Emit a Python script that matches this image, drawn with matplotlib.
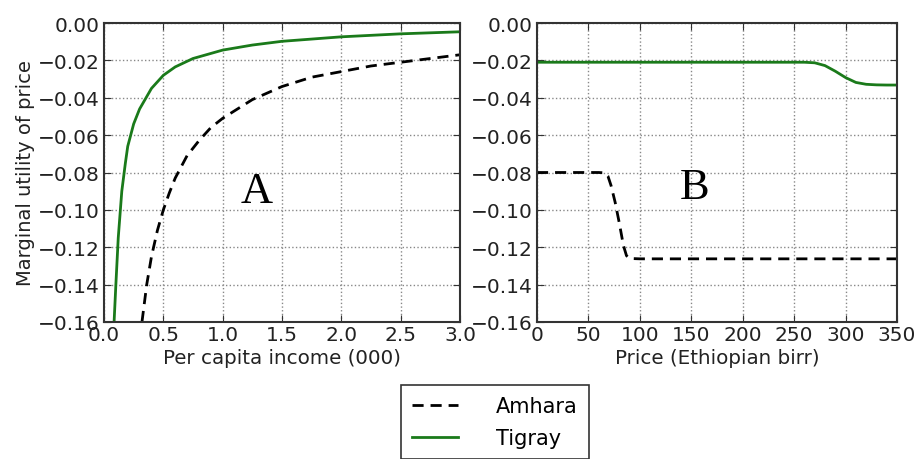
import numpy as np
import matplotlib
matplotlib.use('Agg')
import matplotlib.pyplot as plt

# Panel A: marginal utility vs per capita income (000)
income_amhara = [0.32, 0.36, 0.40, 0.45, 0.50, 0.55, 0.60, 0.70, 0.80, 0.90, 1.00,
                 1.25, 1.50, 1.75, 2.00, 2.25, 2.50, 2.75, 3.00]
mu_amhara_a = [-0.160, -0.140, -0.125, -0.111, -0.100, -0.091, -0.083, -0.071,
               -0.063, -0.056, -0.051, -0.041, -0.034, -0.029, -0.026, -0.023,
               -0.021, -0.019, -0.017]
income_tigray = [0.085, 0.10, 0.12, 0.15, 0.18, 0.20, 0.25, 0.30, 0.40, 0.50, 0.60,
                 0.75, 1.00, 1.25, 1.50, 2.00, 2.50, 3.00]
mu_tigray_a = [-0.160, -0.140, -0.115, -0.090, -0.075, -0.066, -0.054, -0.046,
               -0.035, -0.028, -0.0235, -0.019, -0.0145, -0.0118, -0.0098,
               -0.0074, -0.0058, -0.0047]

# Panel B: marginal utility vs price (Ethiopian birr)
price_amhara = [0, 30, 60, 66, 69, 72, 76, 80, 84, 87, 90, 100, 150, 200, 250, 300, 350]
mu_amhara_b = [-0.080, -0.080, -0.080, -0.0802, -0.082, -0.087, -0.096, -0.107,
               -0.119, -0.1245, -0.126, -0.1262, -0.1262, -0.1262, -0.1262,
               -0.1262, -0.1262]
price_tigray = [0, 100, 200, 260, 270, 280, 290, 300, 310, 320, 330, 340, 350]
mu_tigray_b = [-0.021, -0.021, -0.021, -0.021, -0.0213, -0.0228, -0.0258,
               -0.0292, -0.0318, -0.0328, -0.0331, -0.0332, -0.0332]

GREEN = '#1a7a1a'
FRAME = '#333333'

plt.rcParams['font.family'] = 'DejaVu Sans'


def ytick_fmt(v, pos):
    s = f'{v:.2f}'
    if s == '-0.00':
        s = '0.00'
    return s.replace('-', '\u2212')


fig = plt.figure(figsize=(9.14, 4.6), dpi=100)
ax1 = fig.add_axes([104/914, 1 - 323/460, 356/914, 299/460])
ax2 = fig.add_axes([537/914, 1 - 323/460, 360/914, 299/460])

l1, = ax1.plot(income_amhara, mu_amhara_a, color='black', ls='--', lw=2,
               dashes=(4, 2.5), label='Amhara')
l2, = ax1.plot(income_tigray, mu_tigray_a, color=GREEN, lw=2, label='Tigray')
ax1.set_xlim(0, 3.0)
ax1.set_xticks(np.arange(0, 3.01, 0.5))
ax1.set_xlabel('Per capita income (000)', fontsize=14.3, color='#222222', labelpad=3)
ax1.set_ylabel('Marginal utility of price', fontsize=14, color='#222222', labelpad=2)
ax1.text(1.29, -0.09, 'A', fontsize=32, family='Liberation Serif',
         ha='center', va='center')

ax2.plot(price_amhara, mu_amhara_b, color='black', ls='--', lw=2, dashes=(4, 2.5))
ax2.plot(price_tigray, mu_tigray_b, color=GREEN, lw=2)
ax2.set_xlim(0, 350)
ax2.set_xticks(np.arange(0, 351, 50))
ax2.set_xlabel('Price (Ethiopian birr)', fontsize=14.3, color='#222222', labelpad=3)
ax2.text(153, -0.088, 'B', fontsize=32, family='Liberation Serif',
         ha='center', va='center')

for ax in (ax1, ax2):
    ax.set_ylim(-0.16, 0.0)
    ax.set_yticks(np.arange(-0.16, 0.001, 0.02))
    ax.yaxis.set_major_formatter(plt.FuncFormatter(ytick_fmt))
    ax.grid(True, ls=':', color='#888888', lw=1)
    ax.tick_params(direction='in', length=5, labelsize=14.5, top=True, right=True,
                   colors=FRAME, labelcolor='#222222')
    ax.tick_params(axis='y', pad=3)
    ax.tick_params(axis='x', pad=2)
    for s in ax.spines.values():
        s.set_color(FRAME)
        s.set_linewidth(1.5)

leg = fig.legend(handles=[l1, l2], loc='upper left',
                 bbox_to_anchor=(401/914, 1 - 386/460), fontsize=15,
                 frameon=True, fancybox=False, edgecolor='black',
                 handlelength=2.2, borderpad=0.55, handletextpad=1.8,
                 labelspacing=0.55, borderaxespad=0)
leg.get_frame().set_linewidth(1.2)

fig.savefig('out.png', dpi=100)
